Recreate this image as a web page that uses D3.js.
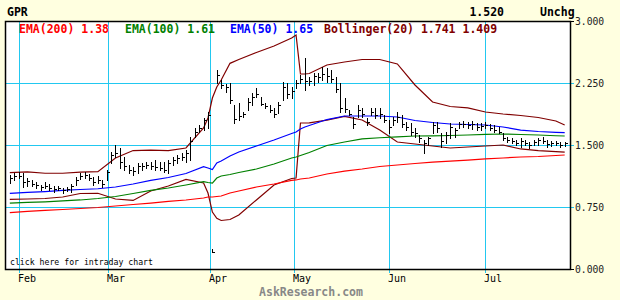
<!DOCTYPE html>
<html>
<head>
<meta charset="utf-8">
<script src="https://cdn.jsdelivr.net/npm/d3@7"></script>
<style>
  body { margin: 0; background: #ffffe0; }
  text { font-family: "DejaVu Sans Mono", monospace; }
</style>
</head>
<body>
<div id="chart"></div>
<script>
// daily bars (trading day index 0..126)
const barHigh = [1.14,1.16,1.17,1.16,1.10,1.08,1.05,1.02,1.05,1.03,1.00,1.00,0.98,0.99,1.03,1.11,1.16,1.17,1.15,1.11,
  1.12,1.08,1.20,1.42,1.50,1.46,1.35,1.26,1.23,1.28,1.28,1.29,1.29,1.32,1.29,1.29,1.32,1.35,1.38,1.40,
  1.44,1.60,1.71,1.74,1.83,1.90,0.24,2.41,2.29,2.24,2.25,1.98,2.01,1.90,2.07,2.13,2.19,2.08,2.01,1.98,
  1.95,2.02,2.26,2.25,2.20,2.29,2.35,2.55,2.32,2.37,2.37,2.44,2.43,2.41,2.32,2.25,2.07,1.92,1.84,1.98,
  1.95,1.83,1.95,1.95,1.95,1.86,1.80,1.84,1.90,1.86,1.78,1.77,1.71,1.62,1.56,1.60,1.78,1.78,1.65,1.66,
  1.77,1.71,1.78,1.79,1.78,1.79,1.77,1.77,1.78,1.75,1.74,1.72,1.65,1.60,1.58,1.56,1.58,1.56,1.54,1.56,
  1.58,1.60,1.56,1.55,1.55,1.54,1.54];
const barLow = [1.04,1.08,1.10,0.99,1.00,1.00,0.98,0.96,0.98,0.96,0.93,0.96,0.92,0.94,0.93,1.02,1.09,1.10,1.08,1.02,
  1.04,0.99,1.08,1.28,1.35,1.22,1.20,1.16,1.14,1.16,1.20,1.22,1.21,1.20,1.20,1.17,1.16,1.26,1.28,1.32,
  1.29,1.32,1.60,1.66,1.68,1.71,0.20,2.25,2.19,2.14,2.01,1.77,1.80,1.84,1.92,1.98,2.08,1.98,1.95,1.90,
  1.84,1.89,2.04,2.07,2.07,2.19,2.25,2.17,2.23,2.23,2.26,2.29,2.26,2.26,2.14,1.90,1.90,1.86,1.71,1.84,
  1.84,1.74,1.86,1.83,1.83,1.78,1.65,1.74,1.78,1.72,1.68,1.62,1.60,1.54,1.40,1.50,1.65,1.66,1.48,1.52,
  1.58,1.60,1.71,1.72,1.71,1.69,1.68,1.68,1.71,1.68,1.66,1.65,1.56,1.54,1.52,1.50,1.48,1.50,1.46,1.50,
  1.50,1.53,1.48,1.49,1.50,1.48,1.49];
const barClose = [1.10,1.12,1.13,1.05,1.06,1.03,1.02,0.99,1.01,0.98,0.97,0.98,0.95,0.97,1.01,1.08,1.13,1.14,1.10,1.05,
  1.08,1.03,1.17,1.38,1.40,1.30,1.24,1.20,1.18,1.25,1.24,1.26,1.25,1.23,1.22,1.20,1.28,1.32,1.34,1.36,
  1.40,1.55,1.66,1.70,1.80,1.86,0.21,2.35,2.22,2.20,2.05,1.82,1.85,1.88,2.02,2.08,2.12,2.00,1.97,1.92,
  1.88,1.98,2.20,2.12,2.15,2.25,2.30,2.28,2.27,2.33,2.32,2.36,2.34,2.30,2.18,1.95,1.94,1.88,1.76,1.92,
  1.88,1.78,1.90,1.86,1.88,1.80,1.72,1.80,1.84,1.76,1.72,1.66,1.64,1.58,1.52,1.58,1.74,1.70,1.55,1.62,
  1.72,1.68,1.75,1.76,1.74,1.75,1.72,1.73,1.74,1.70,1.68,1.66,1.58,1.56,1.55,1.53,1.55,1.52,1.50,1.54,
  1.56,1.55,1.51,1.53,1.52,1.50,1.52];

// indicator lines, read at these day indices
const lineDays = [0,4,8,12,16,20,24,28,32,36,40,44,45,46,47,48,50,52,56,60,
  64,65,66,67,68,72,76,80,84,88,92,96,100,104,108,112,116,120,124,126];
const ema200 = [0.683,0.696,0.708,0.720,0.732,0.744,0.762,0.780,0.798,0.817,0.835,0.859,0.871,0.871,0.877,0.883,0.919,0.944,0.992,1.028,
  1.071,1.077,1.089,1.095,1.101,1.149,1.185,1.210,1.240,1.258,1.276,1.294,1.306,1.318,1.331,1.343,1.355,1.361,1.373,1.379];
const ema100 = [0.798,0.807,0.813,0.823,0.835,0.853,0.877,0.913,0.950,0.980,1.016,1.056,1.046,1.040,1.101,1.125,1.143,1.167,1.210,1.270,
  1.343,1.355,1.373,1.391,1.409,1.494,1.536,1.573,1.588,1.599,1.609,1.611,1.615,1.621,1.629,1.633,1.627,1.621,1.612,1.609];
const ema50 = [0.916,0.928,0.937,0.950,0.962,0.971,0.992,1.028,1.071,1.107,1.155,1.237,1.222,1.204,1.282,1.306,1.367,1.415,1.488,1.560,
  1.639,1.657,1.694,1.718,1.736,1.808,1.851,1.851,1.851,1.839,1.796,1.772,1.754,1.748,1.742,1.718,1.681,1.663,1.653,1.650];
const bollUpper = [1.165,1.176,1.158,1.158,1.173,1.177,1.343,1.433,1.439,1.433,1.464,1.706,1.827,2.068,2.202,2.286,2.488,2.534,2.619,2.697,
  2.794,2.830,2.359,2.359,2.365,2.468,2.504,2.534,2.534,2.480,2.226,2.020,1.966,1.948,1.899,1.875,1.857,1.833,1.790,1.742];
const bollLower = [0.843,0.847,0.853,0.871,0.913,0.916,0.847,0.829,0.944,1.004,1.083,1.040,0.919,0.689,0.613,0.587,0.599,0.653,0.835,1.016,
  1.095,1.101,1.766,1.766,1.768,1.802,1.845,1.802,1.681,1.536,1.512,1.488,1.464,1.476,1.488,1.500,1.452,1.431,1.421,1.415];

const monthNames = ["Feb", "Mar", "Apr", "May", "Jun", "Jul"];
const monthDays = [2, 22.2, 45.5, 64.6, 86, 108];
const yTicks = [0, 0.75, 1.5, 2.25, 3];

const svg = d3.select("#chart").append("svg")
    .attr("width", 620)
    .attr("height", 300);

const plotLeft = 5, plotRight = 570, plotTop = 21, plotBottom = 269;

const x = d3.scaleLinear().domain([0, 126]).range([9.8, 564.7]);
const y = d3.scaleLinear().domain([0, 3]).range([plotBottom, plotTop]);

// plot area
svg.append("rect")
    .attr("x", plotLeft).attr("y", plotTop)
    .attr("width", plotRight - plotLeft).attr("height", plotBottom - plotTop)
    .attr("fill", "white");

// grid
const grid = "#22c8f0";
svg.selectAll("line.hgrid")
    .data(yTicks.filter(d => d > 0 && d < 3))
    .enter().append("line")
    .attr("class", "hgrid")
    .attr("x1", plotLeft).attr("x2", plotRight + 4)
    .attr("y1", d => Math.round(y(d)) + 0.5).attr("y2", d => Math.round(y(d)) + 0.5)
    .attr("stroke", grid).attr("stroke-width", 1);

svg.selectAll("line.vgrid")
    .data(monthDays)
    .enter().append("line")
    .attr("class", "vgrid")
    .attr("x1", d => Math.round(x(d)) + 0.5).attr("x2", d => Math.round(x(d)) + 0.5)
    .attr("y1", plotTop).attr("y2", plotBottom + 4)
    .attr("stroke", grid).attr("stroke-width", 1);

// indicator lines
const series = [
    { values: bollUpper, color: "#800000" },
    { values: bollLower, color: "#800000" },
    { values: ema200, color: "#ff0000" },
    { values: ema100, color: "#008000" },
    { values: ema50, color: "#0000ff" }
];
const line = d3.line()
    .x((d, i) => x(lineDays[i]))
    .y(d => y(d));
svg.selectAll("path.ind")
    .data(series)
    .enter().append("path")
    .attr("class", "ind")
    .attr("d", d => line(d.values))
    .attr("fill", "none")
    .attr("stroke", d => d.color)
    .attr("stroke-width", 1.2);

// price bars
const bars = barHigh.map((h, i) => ({ i: i, h: h, l: barLow[i], c: barClose[i] }));
const barG = svg.append("g").attr("shape-rendering", "crispEdges");
barG.selectAll("line.hl")
    .data(bars)
    .enter().append("line")
    .attr("x1", d => Math.round(x(d.i)) + 0.5).attr("x2", d => Math.round(x(d.i)) + 0.5)
    .attr("y1", d => y(d.h)).attr("y2", d => y(d.l) + 1)
    .attr("stroke", "black").attr("stroke-width", 1);
barG.selectAll("line.cl")
    .data(bars)
    .enter().append("line")
    .attr("x1", d => Math.round(x(d.i)) + 1).attr("x2", d => Math.round(x(d.i)) + 3)
    .attr("y1", d => Math.round(y(d.c)) + 0.5).attr("y2", d => Math.round(y(d.c)) + 0.5)
    .attr("stroke", "black").attr("stroke-width", 1);

// frame
svg.append("rect")
    .attr("x", plotLeft + 0.5).attr("y", plotTop + 0.5)
    .attr("width", plotRight - plotLeft).attr("height", plotBottom - plotTop)
    .attr("fill", "none").attr("stroke", "black").attr("stroke-width", 1.5);

svg.selectAll("line.ytick")
    .data([0, 3])
    .enter().append("line")
    .attr("x1", plotRight).attr("x2", plotRight + 4)
    .attr("y1", d => Math.round(y(d)) + 0.5).attr("y2", d => Math.round(y(d)) + 0.5)
    .attr("stroke", "black");

// y labels
svg.selectAll("text.ylab")
    .data(yTicks)
    .enter().append("text")
    .attr("x", 575).attr("y", d => y(d) + 4)
    .attr("font-size", "9.7px")
    .attr("fill", "#222")
    .text(d => d.toFixed(3));

// month labels
svg.selectAll("text.mlab")
    .data(monthDays)
    .enter().append("text")
    .attr("x", d => Math.round(x(d)) - 1).attr("y", 282)
    .attr("font-size", "10px")
    .attr("fill", "black")
    .text((d, i) => monthNames[i]);

// header
svg.append("text").attr("x", 7).attr("y", 16)
    .attr("font-size", "11.5px").attr("font-weight", "bold").text("GPR");
svg.append("text").attr("x", 504).attr("y", 16).attr("text-anchor", "end")
    .attr("font-size", "11.5px").attr("font-weight", "bold").text("1.520");
svg.append("text").attr("x", 540).attr("y", 16)
    .attr("font-size", "11.5px").attr("font-weight", "bold").text("Unchg");

// legend
const legend = [
    { label: "EMA(200) 1.38", color: "#ff0000", x: 19 },
    { label: "EMA(100) 1.61", color: "#008000", x: 125 },
    { label: "EMA(50) 1.65", color: "#0000ff", x: 230 },
    { label: "Bollinger(20) 1.741 1.409", color: "#800000", x: 324 }
];
svg.selectAll("text.leg")
    .data(legend)
    .enter().append("text")
    .attr("x", d => d.x).attr("y", 33)
    .attr("font-size", "11.5px").attr("font-weight", "bold")
    .attr("fill", d => d.color)
    .text(d => d.label);

svg.append("text").attr("x", 10).attr("y", 265)
    .attr("font-size", "8.2px").attr("fill", "black")
    .text("click here for intraday chart");

svg.append("text").attr("x", 311).attr("y", 296).attr("text-anchor", "middle")
    .attr("font-size", "11.5px").attr("font-weight", "bold").attr("fill", "#888")
    .text("AskResearch.com");
</script>
</body>
</html>
